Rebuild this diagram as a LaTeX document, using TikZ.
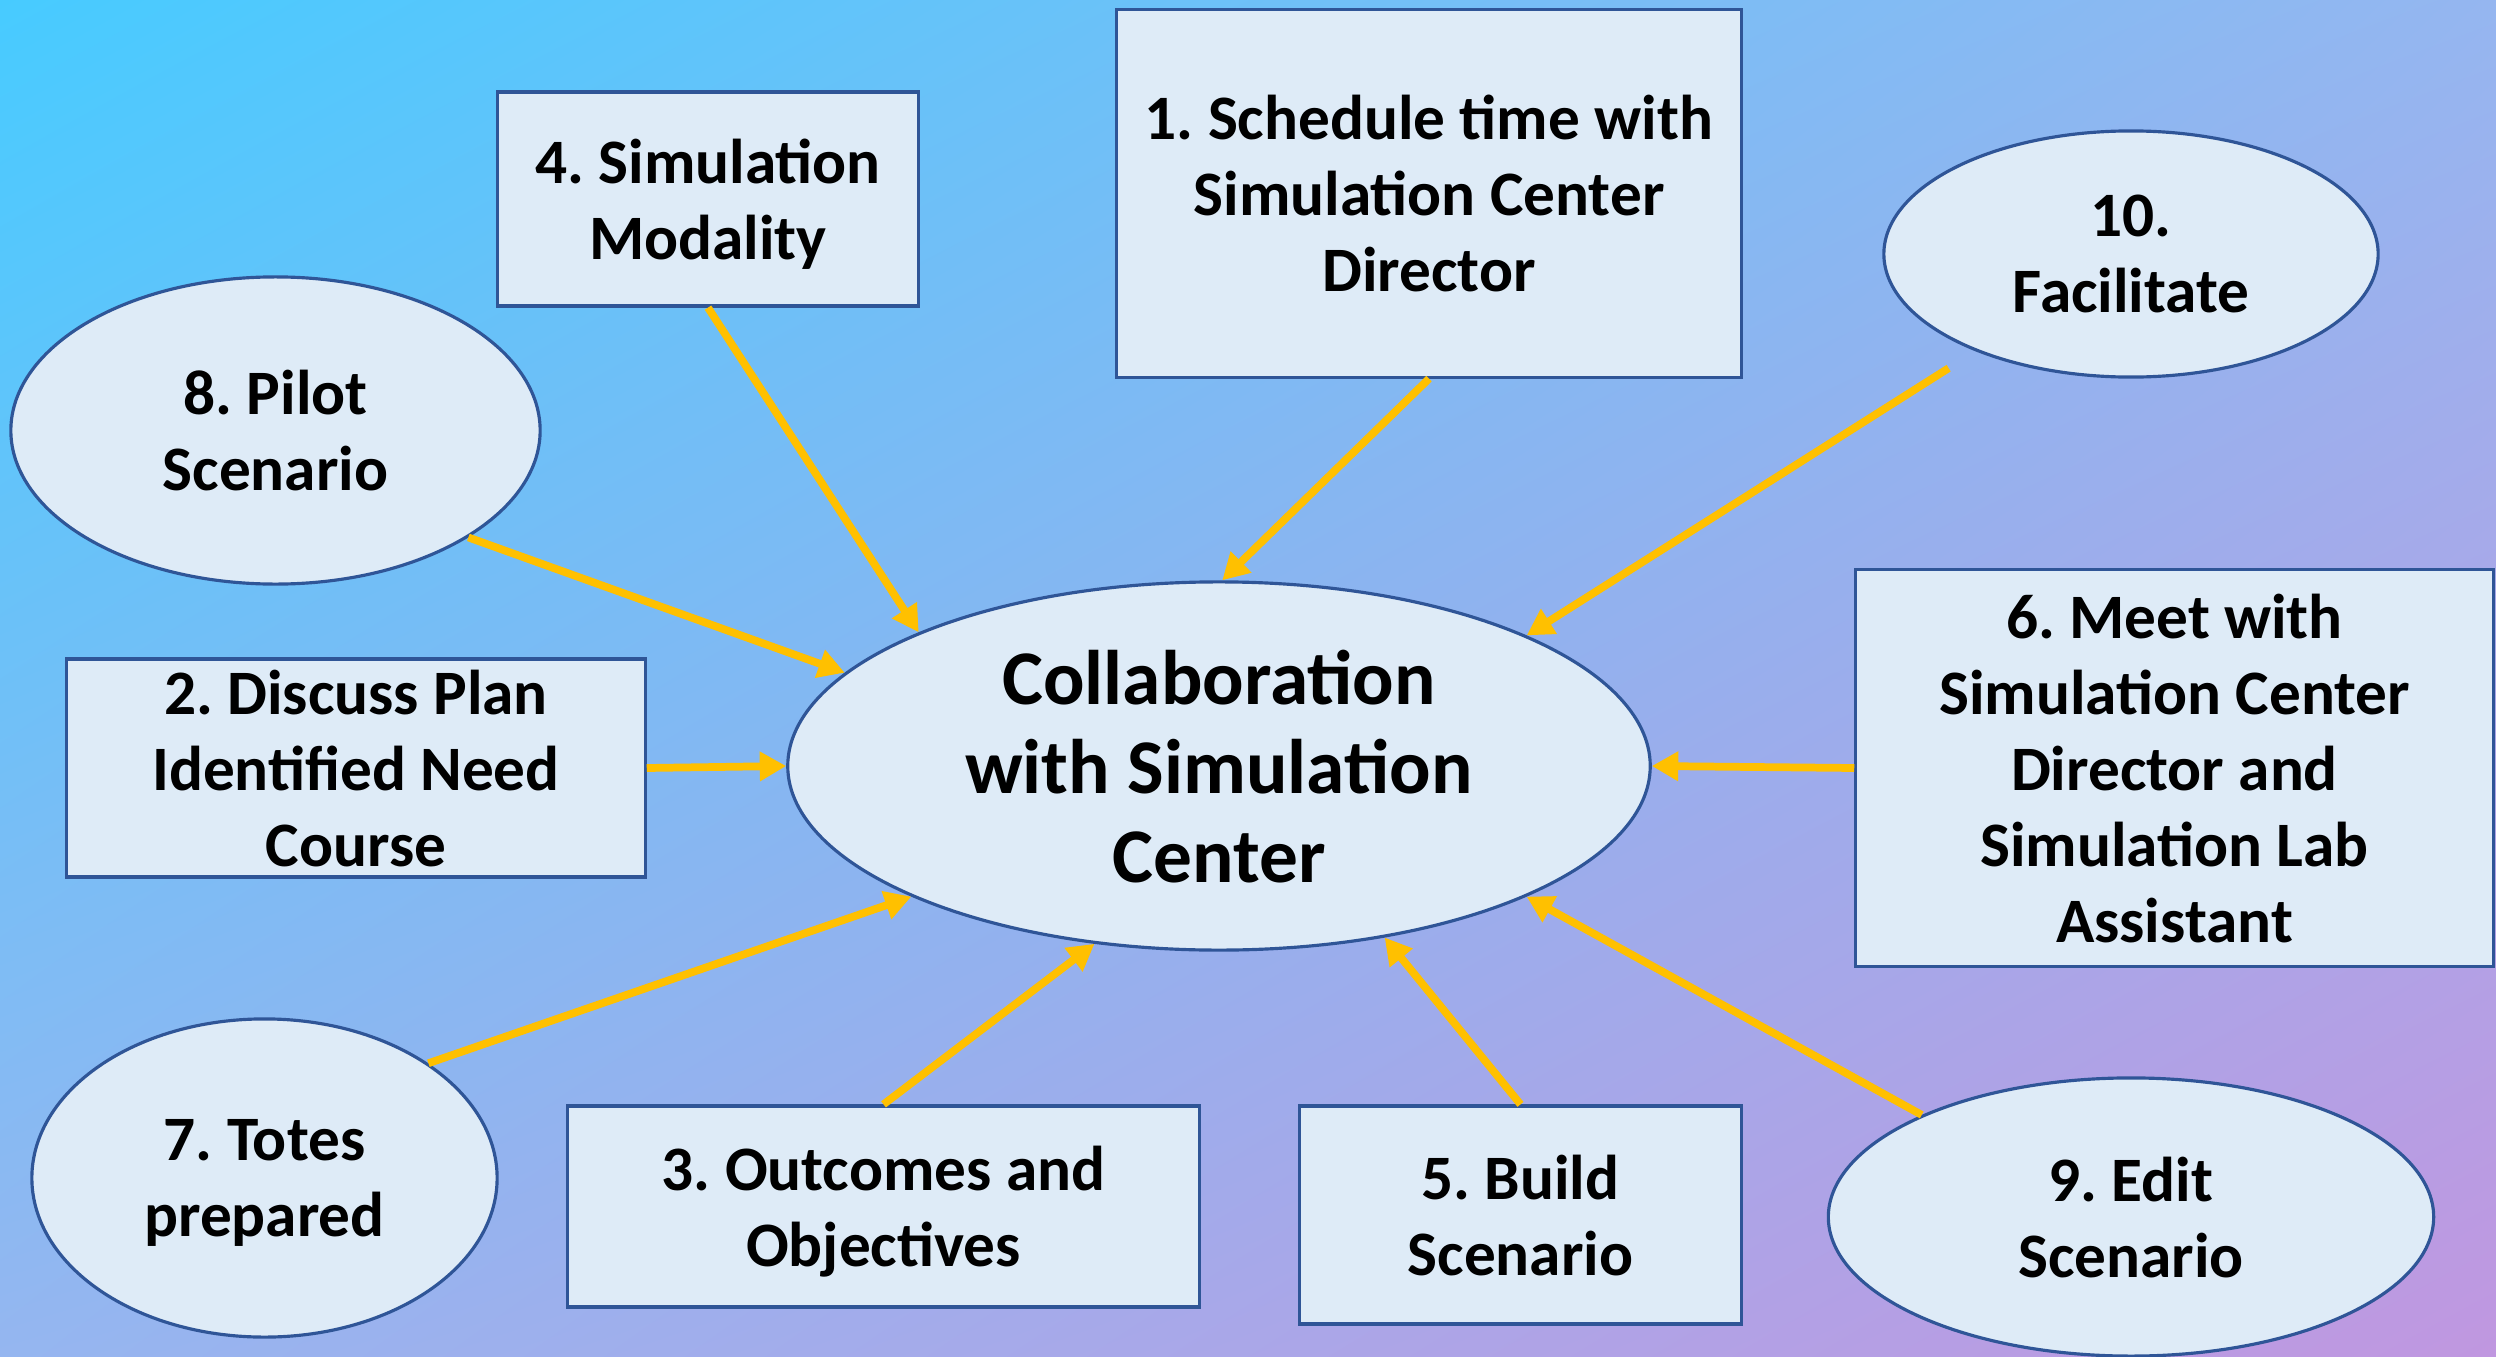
\documentclass[tikz,border=0pt]{standalone}
\usepackage{fontspec}
\setmainfont{Carlito}
\usetikzlibrary{shapes.geometric,arrows.meta,shadings}
\definecolor{skyTop}{HTML}{47CBFF}
\definecolor{midBlue}{HTML}{95B6F0}
\definecolor{lilacBottom}{HTML}{C097E0}
\definecolor{paleFill}{HTML}{DEEBF7}
\definecolor{edgeBlue}{HTML}{2F5597}
\definecolor{gold}{HTML}{FFC000}
\frenchspacing

\begin{document}
\begin{tikzpicture}[%
	x=0.01cm,y=0.01cm,
	every node/.style = {draw=edgeBlue,line width=0.9pt,fill=paleFill,align=center,inner sep=0pt,
	  text depth=0pt,font=\fontsize{18}{21.6}\selectfont\bfseries},
	stepBox/.style={rectangle},
	stepOval/.style={ellipse},
	hub/.style={ellipse,font=\fontsize{22}{25.3}\selectfont\bfseries},
	link/.style={draw=gold,line width=2.2pt,-{Triangle[length=7.5pt,width=8pt]}}
	]
  \shade[upper left=skyTop,upper right=midBlue,lower left=midBlue,lower right=lilacBottom]
    (0,0) rectangle (2496,1356);
  \useasboundingbox (0,0) rectangle (2496,1356);

  \node [hub,minimum width=8.62cm,minimum height=3.68cm] (collab) at (1219,590)
    {Collaboration\\with Simulation\\Center};

  \node [stepBox,minimum width=6.24cm,minimum height=3.67cm] (schedule) at (1429,1162.5)
    {1. Schedule time with\\Simulation Center\\Director};
  \node [stepBox,minimum width=4.20cm,minimum height=2.14cm] (modality) at (708,1157)
    {4. Simulation\\Modality};
  \node [stepOval,minimum width=4.94cm,minimum height=2.46cm] (facilitate) at (2131,1102)
    {10.\\Facilitate};
  \node [stepOval,minimum width=5.29cm,minimum height=3.07cm] (pilot) at (275.5,925.5)
    {8. Pilot\\Scenario};
  \node [stepBox,minimum width=5.78cm,minimum height=2.18cm] (discuss) at (356,588)
    {2. Discuss Plan\\Identified Need\\Course};
  \node [stepBox,minimum width=6.37cm,minimum height=3.96cm] (meet) at (2174.5,588)
    {6. Meet with\\Simulation Center\\Director and\\Simulation Lab\\Assistant};
  \node [stepOval,minimum width=4.65cm,minimum height=3.18cm] (totes) at (264.5,178)
    {7. Totes\\prepared};
  \node [stepBox,minimum width=6.31cm,minimum height=2.01cm] (outcomes) at (883.5,149.5)
    {3. Outcomes and\\Objectives};
  \node [stepBox,minimum width=4.41cm,minimum height=2.18cm] (build) at (1520.5,141)
    {5. Build\\Scenario};
  \node [stepOval,minimum width=6.05cm,minimum height=2.78cm] (edit) at (2131,139)
    {9. Edit\\Scenario};

  \draw [link] (modality.south) -- (collab.156);
  \draw [link] (schedule.south) -- (collab.89);
  \draw [link,shorten <=9pt] (facilitate.212) -- (collab.23);
  \draw [link] (pilot.331) -- (collab.166);
  \draw [link] (discuss.east) -- (collab.west);
  \draw [link] (meet.west) -- (collab.east);
  \draw [link] (totes.35) -- (collab.203);
  \draw [link] (outcomes.north) -- (collab.235);
  \draw [link] (build.north) -- (collab.314);
  \draw [link] (edit.154) -- (collab.337);
\end{tikzpicture}
\end{document}
